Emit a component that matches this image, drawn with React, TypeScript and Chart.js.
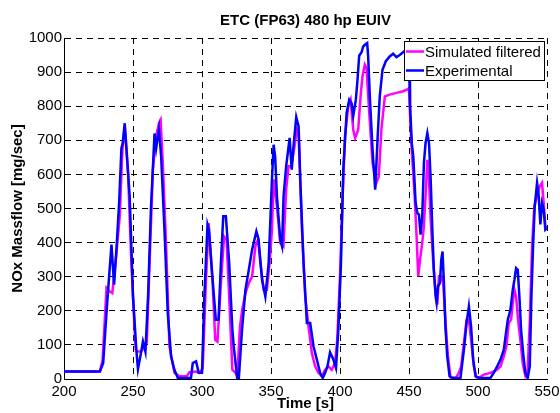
import React, { useEffect, useRef } from "react";
import { Chart, registerables } from "chart.js";

Chart.register(...registerables);

const TITLE = "ETC (FP63) 480 hp EUIV";
const X_LABEL = "Time [s]";
const Y_LABEL = "NOx Massflow [mg/sec]";
const SIM_NAME = "Simulated filtered";
const EXP_NAME = "Experimental";

const X_MIN = 200;
const X_MAX = 550;
const X_STEP = 50;
const Y_MIN = 0;
const Y_MAX = 1000;
const Y_STEP = 100;

// Simulated filtered (magenta)
const simTime = [
  200, 226, 228, 230.8, 233, 235, 238, 240.4, 242.3, 244, 246.4, 248.8, 251.9, 253.6, 256, 258, 260,
  262, 264.4, 266.8, 268.8, 270, 271.6, 274, 276.4, 280, 283.6, 289, 290.9, 295.7, 298, 300.5, 302.9,
  304.8, 307.7, 309.6, 311.2, 313.7, 316, 317.8, 319.7, 322, 324.3, 325.5, 327.5, 329, 331.5, 333.9,
  336.3, 338.7, 340.6, 342.3, 344.7, 347, 349, 350.7, 351.9, 354.3, 356.7, 359, 361, 362.7, 364.7,
  366.3, 368.8, 370, 372.4, 374.8, 377.2, 379.6, 382, 384.4, 386.8, 389.2, 391.6, 394, 396.4, 398, 400,
  401.9, 403.6, 406, 407.7, 409.6, 411, 413.2, 414.9, 416.3, 418, 419.2, 421.2, 423.6, 426.4, 428.1,
  430, 432.5, 436, 440.9, 445.7, 448.8, 450, 450.7, 452, 454.1, 455.5, 456.7, 458, 459.6, 460.8, 462,
  463.3, 464.5, 465.7, 467.6, 469.3, 470.5, 471.7, 473.4, 474.8, 476.5, 478.2, 480.1, 484, 486.1, 487.8,
  489.8, 491.7, 493.4, 495, 497, 498.9, 501.3, 504.2, 509, 513.9, 516.3, 518.7, 520.6, 522.3, 524,
  525.2, 526.4, 527.6, 529, 530.7, 532.4, 534.3, 536, 537.5, 539.2, 540.8, 542.8, 544.7, 546.4, 547.6,
  548.8, 550,
];
const simNox = [
  22, 22, 57, 267, 257, 252, 370, 477, 672, 741, 604, 340, 86, 81, 81, 95, 106,
  340, 614, 712, 750, 760, 633, 389, 96, 18, 8, 8, 20, 22, 18, 30, 291,
  457, 281, 115, 110, 281, 418, 408, 240, 27, 18, 8, 153, 200, 252, 281,
  301, 389, 409, 340, 262, 262, 340, 438, 585, 506, 399, 389, 555, 624, 624,
  663, 731, 720, 438, 242, 154, 76, 37, 18, 8, 27, 37, 27, 47, 115, 301,
  536, 712, 800, 819, 731, 707, 731, 829, 888, 922, 912, 780, 633, 575, 594,
  731, 829, 834, 839, 844, 849, 853, 780, 672, 536, 418, 301, 350, 399, 448, 536,
  643, 585, 467, 340, 252, 218, 301, 301, 281, 164, 66, 5, 3, 18, 37,
  106, 174, 174, 115, 37, 5, 5, 13, 18, 27, 37, 66, 96, 164, 174,
  223, 262, 242, 174, 115, 47, 10, 27, 164, 389, 506, 536, 565, 575, 516,
  448, 438,
];

// Experimental (blue)
const expTime = [
  200, 226, 228.4, 230.8, 232.5, 234.4, 236.3, 238, 240, 241.6, 242.5, 244, 245, 247.6, 250, 252.4,
  253.6, 256, 257.2, 259, 261, 263, 265.6, 266.8, 268.8, 270.4, 272.8, 275.2, 277.6, 280, 282.5, 292,
  293.3, 295.7, 297.6, 300, 301.7, 304, 305, 307.7, 310, 312, 313.7, 315.4, 317.3, 319.7, 322, 323,
  325.5, 326.7, 329, 331.5, 333.9, 336.3, 339.4, 341, 343.5, 345.9, 348.3, 350.7, 351.9, 353, 354.3,
  356.7, 358, 359.1, 361, 363.5, 365, 366.3, 368.3, 370, 371.2, 373.6, 376, 378.4, 380.8, 383.2, 385.6,
  387.5, 389.2, 390.9, 392.8, 395.2, 397.1, 398.8, 400.7, 402.4, 404.8, 406.7, 408.4, 409.6, 411.5,
  412.7, 413.9, 415.6, 416.8, 418, 419.7, 420.4, 421.6, 423.6, 425.5, 427.2, 428.8, 430.8, 433.2, 436,
  438.5, 440.9, 443.3, 445.7, 448, 448.8, 450, 450.7, 452, 453.1, 454.8, 456, 457.2, 458.4, 459.6,
  460.8, 462, 463.3, 464.5, 465.7, 466.9, 468, 469.3, 470, 471, 472.4, 473.4, 474.3, 475.3, 476.5,
  477.7, 479.4, 481.3, 487.3, 489.8, 491.7, 493.4, 495, 496.5, 498.2, 500.6, 509, 511.4, 513.9, 516.3,
  518.7, 520.6, 521.6, 523.5, 525.2, 526.4, 527.6, 528.8, 530, 531.2, 532.7, 534.3, 536, 537.5, 538.7,
  539.9, 541.1, 542.8, 544, 545.2, 546.4, 547.6, 548.8, 550,
];
const expNox = [
  22, 22, 47, 195, 290, 394, 277, 380, 520, 677, 690, 750, 692, 535, 242, 86,
  29, 81, 110, 80, 250, 500, 720, 677, 733, 653, 438, 193, 66, 27, 3, 3,
  47, 52, 18, 18, 242, 453, 438, 291, 174, 174, 340, 477, 477, 340, 145, 96,
  3, 3, 145, 262, 320, 379, 433, 409, 291, 242, 340, 585, 687, 653, 536,
  409, 389, 536, 624, 707, 614, 682, 768, 741, 585, 340, 164, 164, 96, 57, 18,
  3, 18, 37, 78, 57, 32, 145, 340, 614, 780, 819, 809, 772, 819,
  878, 948, 958, 975, 980, 985, 946, 829, 672, 555, 702, 829, 907, 932, 946,
  954, 944, 950, 958, 966, 966, 927, 809, 692, 653, 516, 487, 482, 423, 477,
  633, 692, 721, 692, 585, 438, 320, 242, 223, 272, 281, 350, 374, 281, 145,
  66, 8, 3, 3, 86, 164, 213, 154, 57, 8, 3, 3, 18, 37, 57,
  86, 145, 174, 203, 262, 291, 325, 320, 242, 145, 76, 18, 3, 37, 242,
  389, 506, 575, 536, 453, 516, 497, 438, 443,
];

const SIM_COLOR = "#ff00ff";
const EXP_COLOR = "#0000ff";
const FONT = "'Liberation Sans', Arial, Helvetica, sans-serif";

const legendBoxPlugin = {
  id: "legendBox",
  afterDatasetsDraw(chart: any) {
    const { ctx, chartArea } = chart;
    ctx.save();
    ctx.font = `15px ${FONT}`;
    const items = chart.data.datasets.map((ds: any) => ({ label: ds.label, color: ds.borderColor }));
    const tw = Math.max(...items.map((i: any) => ctx.measureText(i.label).width));
    const lineLen = 18;
    const rowH = 19;
    const w = 2 + lineLen + 1 + tw + 3;
    const h = items.length * rowH + 1;
    const right = Math.round(chartArea.right) - 3;
    const top = Math.round(chartArea.top) + 3;
    const left = Math.round(right - w);
    ctx.fillStyle = "#ffffff";
    ctx.fillRect(left, top, right - left, h);
    ctx.strokeStyle = "#000000";
    ctx.lineWidth = 1;
    ctx.strokeRect(left + 0.5, top + 0.5, right - left, h);
    items.forEach((it: any, i: number) => {
      const cy = top + 10.5 + i * rowH;
      ctx.strokeStyle = it.color;
      ctx.lineWidth = 2.5;
      ctx.beginPath();
      ctx.moveTo(left + 2, cy);
      ctx.lineTo(left + 2 + lineLen, cy);
      ctx.stroke();
      ctx.fillStyle = "#000000";
      ctx.textBaseline = "middle";
      ctx.textAlign = "left";
      ctx.fillText(it.label, left + 3 + lineLen, cy + 1);
    });
    ctx.restore();
  },
};

export default function App() {
  const canvasRef = useRef<HTMLCanvasElement | null>(null);

  useEffect(() => {
    if (!canvasRef.current) return;
    const simData = simTime.map((t, i) => ({ x: t, y: simNox[i] }));
    const expData = expTime.map((t, i) => ({ x: t, y: expNox[i] }));
    const chart = new Chart(canvasRef.current, {
      type: "line",
      data: {
        datasets: [
          {
            label: SIM_NAME,
            data: simData,
            borderColor: SIM_COLOR,
            backgroundColor: SIM_COLOR,
            borderWidth: 2.5,
            pointRadius: 0,
            tension: 0,
            order: 2,
          },
          {
            label: EXP_NAME,
            data: expData,
            borderColor: EXP_COLOR,
            backgroundColor: EXP_COLOR,
            borderWidth: 2.5,
            pointRadius: 0,
            tension: 0,
            order: 1,
          },
        ],
      },
      options: {
        animation: false,
        responsive: false,
        maintainAspectRatio: false,
        events: [],
        layout: { padding: { left: 0, right: 13, top: 0, bottom: 0 } },
        plugins: {
          legend: { display: false },
          tooltip: { enabled: false },
          title: {
            display: true,
            text: TITLE,
            fullSize: false,
            color: "#000",
            font: { family: FONT, size: 15, weight: "bold", lineHeight: 1.2 },
            padding: { top: 12, bottom: 8 },
          },
        },
        scales: {
          x: {
            type: "linear",
            min: X_MIN,
            max: X_MAX,
            afterFit: (s: any) => {
              s.height = 34;
              s.paddingLeft = 0;
              s.paddingRight = 0;
            },
            ticks: {
              stepSize: X_STEP,
              color: "#000",
              padding: 4,
              maxRotation: 0,
              font: { family: FONT, size: 15 },
              callback: (v: any) => String(v),
            },
            grid: {
              color: "#000",
              lineWidth: 1,
              drawTicks: false,
            },
            border: { display: true, color: "#000", width: 1, dash: [6, 5] },
            title: {
              display: true,
              text: X_LABEL,
              color: "#000",
              font: { family: FONT, size: 15, weight: "bold", lineHeight: 1.2 },
              padding: { top: 0, bottom: 0 },
            },
          },
          y: {
            type: "linear",
            min: Y_MIN,
            max: Y_MAX,
            afterFit: (s: any) => {
              s.width = 64;
              s.paddingTop = 0;
              s.paddingBottom = 0;
            },
            ticks: {
              stepSize: Y_STEP,
              color: "#000",
              padding: 2,
              font: { family: FONT, size: 15 },
              callback: (v: any) => String(v),
            },
            grid: {
              color: "#000",
              lineWidth: 1,
              drawTicks: false,
            },
            border: { display: true, color: "#000", width: 1, dash: [6, 5] },
            title: {
              display: true,
              text: Y_LABEL,
              color: "#000",
              font: { family: FONT, size: 15, weight: "bold", lineHeight: 1.2 },
              padding: { top: 9, bottom: 0 },
            },
          },
        },
      },
      plugins: [legendBoxPlugin],
    });
    return () => chart.destroy();
  }, []);

  return (
    <div style={{ position: "fixed", left: 0, top: 0, width: 560, height: 413, background: "#fff" }}>
      <canvas ref={canvasRef} width={560} height={413} style={{ width: 560, height: 413, display: "block" }} />
    </div>
  );
}
